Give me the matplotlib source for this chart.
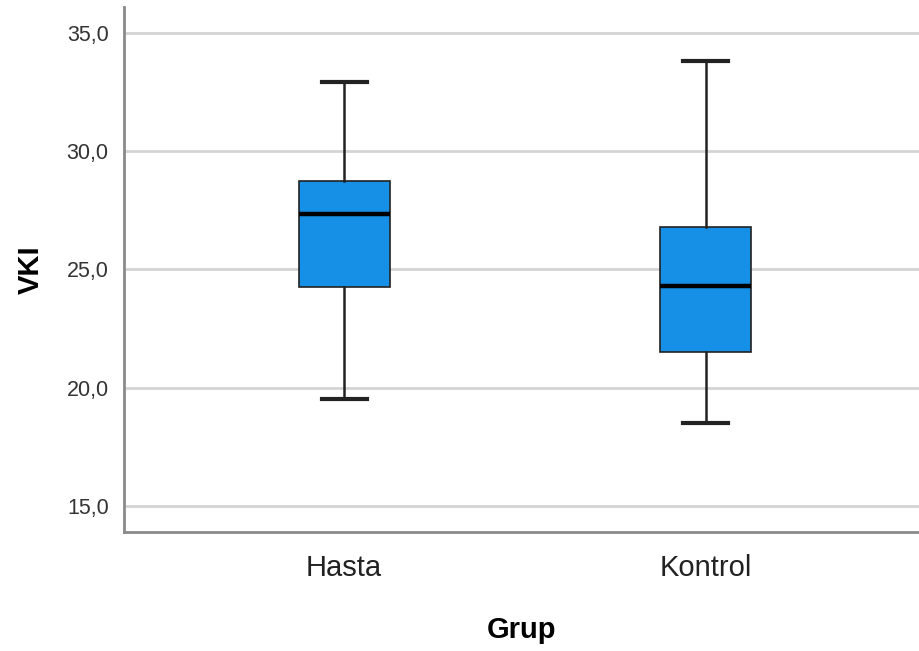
import matplotlib.pyplot as plt

# Box plot data
groups = ["Hasta", "Kontrol"]
whisker_low = [19.5, 18.5]
q1 = [24.27, 21.52]
medians = [27.33, 24.31]
q3 = [28.75, 26.81]
whisker_high = [32.91, 33.82]

y_ticks = [15, 20, 25, 30, 35]
y_tick_labels = ["15,0", "20,0", "25,0", "30,0", "35,0"]

plt.rcParams['font.family'] = ['Liberation Sans', 'DejaVu Sans']

fig = plt.figure(figsize=(9.2, 6.51), dpi=100)
ax = fig.add_axes([124 / 920, 1 - 532 / 651, 1 - 124 / 920, (532 - 7) / 651])

stats = []
for i in range(len(groups)):
    stats.append({
        "label": groups[i],
        "whislo": whisker_low[i],
        "q1": q1[i],
        "med": medians[i],
        "q3": q3[i],
        "whishi": whisker_high[i],
        "fliers": [],
    })

ax.bxp(stats, positions=[1, 2], widths=0.252, patch_artist=True, showfliers=False,
       boxprops=dict(facecolor="#1590e6", edgecolor="#222222", linewidth=1.2),
       medianprops=dict(color="black", linewidth=3.2),
       whiskerprops=dict(color="#222222", linewidth=1.8),
       capprops=dict(color="#222222", linewidth=3),
       capwidths=0.125, zorder=3)

ax.set_xlim(0.391, 2.593)
ax.set_ylim(13.89, 36.1)
ax.set_yticks(y_ticks)
ax.set_yticklabels(y_tick_labels)
ax.yaxis.grid(True, color="#d4d4d4", linewidth=2, zorder=0)
ax.set_axisbelow(True)

for side in ["top", "right"]:
    ax.spines[side].set_visible(False)
for side in ["left", "bottom"]:
    ax.spines[side].set_color("#8a8a8a")
    ax.spines[side].set_linewidth(2)

ax.tick_params(axis="y", length=0, pad=11, labelsize=15.5, labelcolor="#333333")
ax.tick_params(axis="x", length=0, pad=16, labelsize=21, labelcolor="#222222")

ax.set_ylabel("VKI", fontsize=21, fontweight="bold", labelpad=16)
ax.set_xlabel("Grup", fontsize=21, fontweight="bold", labelpad=24)

fig.savefig("out.png", dpi=100)
